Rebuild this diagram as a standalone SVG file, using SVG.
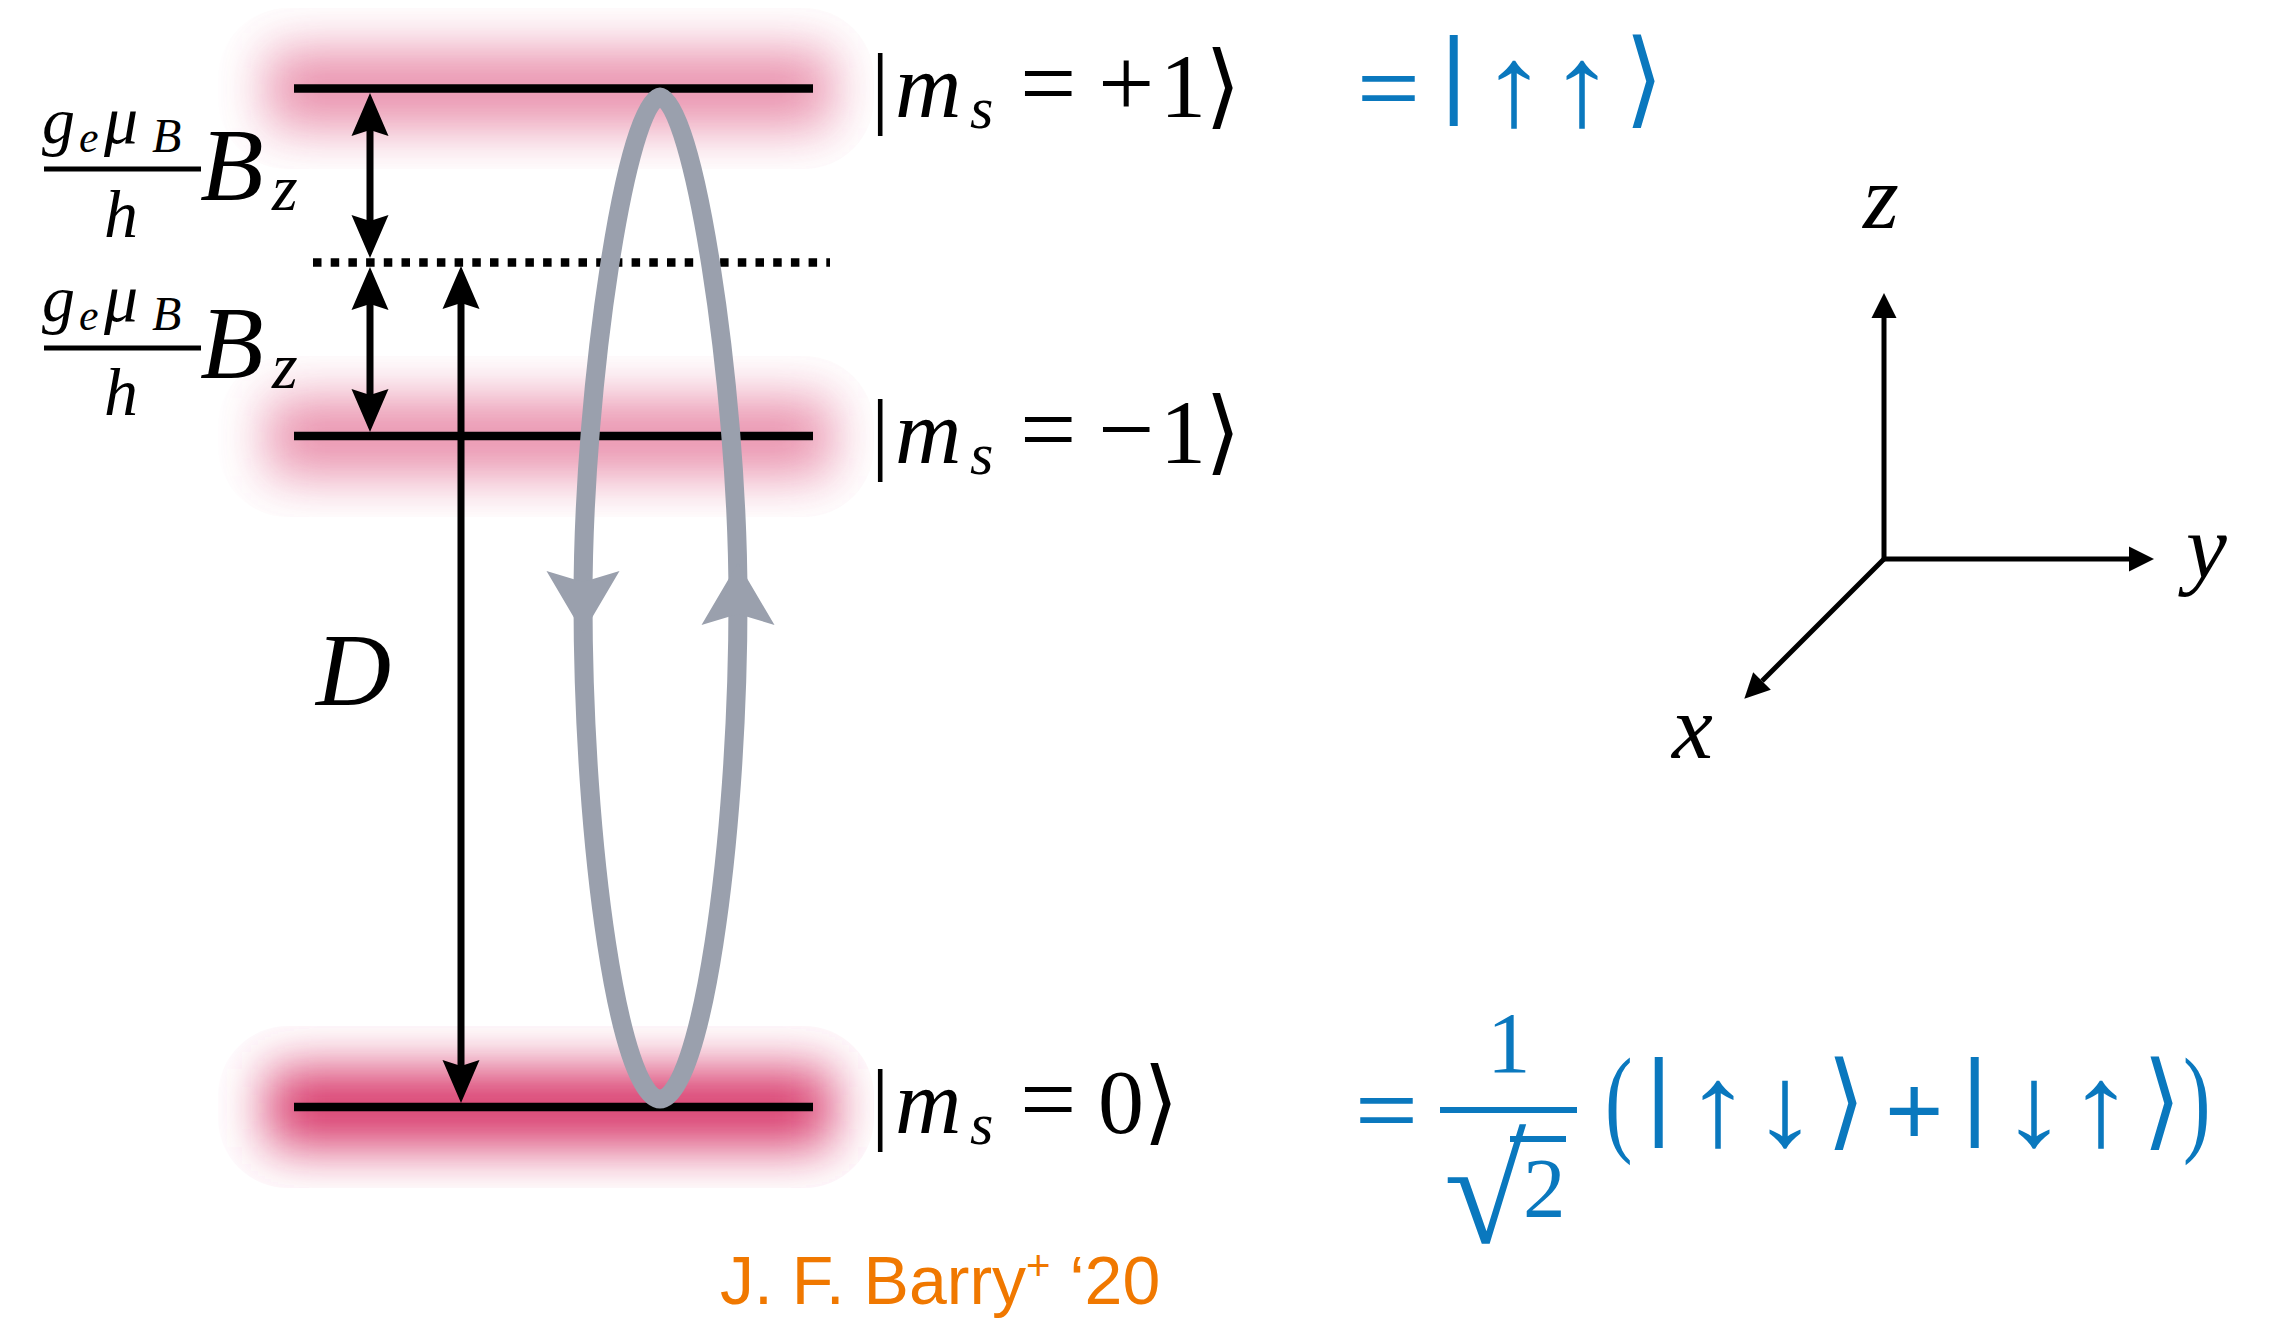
<svg xmlns="http://www.w3.org/2000/svg" xmlns:xlink="http://www.w3.org/1999/xlink" width="2275" height="1318" viewBox="0 0 2275 1318">
<defs>
<style>
.lvl{stroke:#000;stroke-width:8.5;fill:none}
.dot{stroke:#000;stroke-width:8.5;fill:none;stroke-dasharray:8.5 9.2}
.arr{stroke:#000;stroke-width:7;fill:none;marker-start:url(#ah);marker-end:url(#ah)}
.ax{stroke:#000;stroke-width:5;fill:none}
.loop{stroke:#9aa0ad;stroke-width:19;fill:none}
.mi{font-family:"Liberation Serif",serif;font-style:italic;fill:#000}
.mr{font-family:"Liberation Serif",serif;fill:#000}
.br{font-family:"DejaVu Serif","Liberation Serif",serif;fill:#000}
.bl{font-family:"Liberation Sans",sans-serif;fill:#0a78be}
.blr{font-family:"Liberation Serif",serif;fill:#0a78be}
.bla{font-family:"DejaVu Sans","Liberation Sans",sans-serif;fill:#0a78be}
.cite{font-family:"Liberation Sans",sans-serif;fill:#f07800}
.glow{fill:#d8386a;filter:url(#blur)}
</style>
<filter id="blur" x="-40%" y="-200%" width="180%" height="500%"><feGaussianBlur stdDeviation="26"/></filter>
<clipPath id="cTop"><rect x="218" y="8" width="656" height="161" rx="70" ry="70"/></clipPath>
<clipPath id="cMid"><rect x="218" y="356" width="656" height="161" rx="70" ry="70"/></clipPath>
<clipPath id="cBot"><rect x="218" y="1026" width="656" height="162" rx="70" ry="70"/></clipPath>
<marker id="ah" markerUnits="userSpaceOnUse" markerWidth="60" markerHeight="60" viewBox="-20 -30 60 60" refX="0" refY="0" orient="auto-start-reverse" overflow="visible">
<path d="M32,0 L-11,-18.5 L-5,0 L-11,18.5 Z" fill="#000"/>
</marker>
<marker id="axh" markerUnits="userSpaceOnUse" markerWidth="40" markerHeight="40" viewBox="-5 -20 40 40" refX="0" refY="0" orient="auto-start-reverse" overflow="visible">
<path d="M25,0 L0,-12.5 L0,12.5 Z" fill="#000"/>
</marker>
<path id="gh" d="M0,31 L-36.5,-31 L0,-20 L36.5,-31 Z" fill="#9aa0ad"/>
</defs>
<rect width="2275" height="1318" fill="#fff"/>

<g id="glows">
<g clip-path="url(#cTop)"><rect class="glow" x="268" y="50" width="564" height="78" opacity="0.55"/></g>
<g clip-path="url(#cMid)"><rect class="glow" x="268" y="398" width="564" height="78" opacity="0.55"/></g>
<g clip-path="url(#cBot)"><rect class="glow" x="268" y="1069" width="564" height="78" opacity="1"/></g>
</g>

<g id="level-plus1"><line class="lvl" x1="294" y1="88.5" x2="813" y2="88.5"/></g>
<g id="level-virtual"><line class="dot" x1="313" y1="262.5" x2="830" y2="262.5"/></g>
<g id="level-minus1"><line class="lvl" x1="294" y1="436" x2="813" y2="436"/></g>
<g id="level-zero"><line class="lvl" x1="294" y1="1107" x2="813" y2="1107"/></g>

<g id="connectors">
<line class="arr" x1="370" y1="125" x2="370" y2="226"/>
<line class="arr" x1="370" y1="299" x2="370" y2="400"/>
<line class="arr" x1="461" y1="298" x2="461" y2="1071"/>
<path class="loop" d="M660,97 C628,97 583,380 583,600 C583,850 620,1099 660,1099 C700,1099 738,850 738,600 C738,380 692,97 660,97 Z"/>
<use xlink:href="#gh" href="#gh" transform="translate(583,602)"/>
<use xlink:href="#gh" href="#gh" transform="translate(738,594) rotate(180)"/>
</g>

<g id="label-zeeman1">
<text class="mi" font-size="66" x="42" y="143">g</text>
<text class="mi" font-size="44" x="79" y="152">e</text>
<text class="mi" font-size="68" x="104" y="143">μ</text>
<text class="mi" font-size="48" x="152" y="152">B</text>
<rect x="44" y="166.5" width="157" height="5" fill="#000"/>
<text class="mi" font-size="68" x="104" y="237">h</text>
<text class="mi" font-size="104" x="200" y="200">B</text>
<text class="mi" font-size="66" x="272" y="210">z</text>
</g>
<g id="label-zeeman2">
<text class="mi" font-size="66" x="42" y="321">g</text>
<text class="mi" font-size="44" x="79" y="330">e</text>
<text class="mi" font-size="68" x="104" y="321">μ</text>
<text class="mi" font-size="48" x="152" y="330">B</text>
<rect x="44" y="345.5" width="157" height="5" fill="#000"/>
<text class="mi" font-size="68" x="104" y="415">h</text>
<text class="mi" font-size="104" x="200" y="378">B</text>
<text class="mi" font-size="66" x="272" y="388">z</text>
</g>
<g id="label-D"><text class="mi" font-size="104" x="316" y="705">D</text></g>

<g id="ket-plus1">
<text class="mr" font-size="92" x="871" y="117">|</text>
<text class="mi" font-size="92" x="895" y="117">m</text>
<text class="mi" font-size="60" x="970" y="128">s</text>
<text class="mr" font-size="100" x="1020" y="117">=</text>
<text class="mr" font-size="100" x="1098" y="117">+</text>
<text class="mr" font-size="92" x="1160" y="117">1</text>
<text class="br" font-size="92" x="1205" y="117">⟩</text>
</g>
<g id="ket-minus1">
<text class="mr" font-size="92" x="871" y="463">|</text>
<text class="mi" font-size="92" x="895" y="463">m</text>
<text class="mi" font-size="60" x="970" y="474">s</text>
<text class="mr" font-size="100" x="1020" y="463">=</text>
<text class="mr" font-size="100" x="1098" y="463">−</text>
<text class="mr" font-size="92" x="1160" y="463">1</text>
<text class="br" font-size="92" x="1205" y="463">⟩</text>
</g>
<g id="ket-zero">
<text class="mr" font-size="92" x="871" y="1133">|</text>
<text class="mi" font-size="92" x="895" y="1133">m</text>
<text class="mi" font-size="60" x="970" y="1144">s</text>
<text class="mr" font-size="100" x="1020" y="1133">=</text>
<text class="mr" font-size="92" x="1098" y="1133">0</text>
<text class="br" font-size="92" x="1143" y="1133">⟩</text>
</g>

<g id="state-upup">
<text class="bl" font-size="108" transform="translate(1357,114) scale(1,0.72)">=</text>
<text class="bl" font-size="98" x="1441" y="106">|</text>
<text class="bl" font-size="132" transform="translate(1481,125) scale(1,0.868)">↑</text>
<text class="bl" font-size="132" transform="translate(1549,125) scale(1,0.868)">↑</text>
<text class="bla" font-size="100" transform="translate(1624.5,114) scale(1,1.05)">⟩</text>
</g>

<g id="state-zero">
<text class="bl" font-size="108" transform="translate(1355,1135.5) scale(1,0.72)">=</text>
<rect x="1440" y="1107" width="137" height="6" fill="#0a78be"/>
<text class="blr" font-size="87" x="1487" y="1072">1</text>
<text class="blr" font-size="150" transform="translate(1444,1243)">√</text>
<rect x="1510" y="1136" width="56" height="6" fill="#0a78be"/>
<text class="blr" font-size="85" x="1523" y="1217">2</text>
<text class="blr" font-size="118" transform="translate(1605,1140) scale(0.7,1)">(</text>
<text class="bl" font-size="98" x="1646" y="1128">|</text>
<text class="bl" font-size="132" transform="translate(1685,1145) scale(1,0.868)">↑</text>
<text class="bl" font-size="132" transform="translate(1752,1145) scale(1,0.868)">↓</text>
<text class="bla" font-size="100" transform="translate(1826.5,1136) scale(1,1.05)">⟩</text>
<text class="bl" font-size="100" x="1885" y="1145">+</text>
<text class="bl" font-size="98" x="1962" y="1128">|</text>
<text class="bl" font-size="132" transform="translate(2001,1145) scale(1,0.868)">↓</text>
<text class="bl" font-size="132" transform="translate(2068,1145) scale(1,0.868)">↑</text>
<text class="bla" font-size="100" transform="translate(2142.5,1136) scale(1,1.05)">⟩</text>
<text class="blr" font-size="118" transform="translate(2183,1140) scale(0.7,1)">)</text>
</g>

<g id="axes">
<path class="ax" d="M1884,318 L1884,559 L2129,559" marker-start="url(#axh)" marker-end="url(#axh)"/>
<line class="ax" x1="1884" y1="559" x2="1762" y2="681" marker-end="url(#axh)"/>
<text class="mi" font-size="92" x="1863" y="228">z</text>
<text class="mi" font-size="92" x="2186" y="578">y</text>
<text class="mi" font-size="92" x="1672" y="758">x</text>
</g>

<g id="citation">
<text class="cite" font-size="68" x="720" y="1304">J. F. Barry<tspan font-size="42" dy="-24">+</tspan><tspan dy="24"> ‘20</tspan></text>
</g>
</svg>
